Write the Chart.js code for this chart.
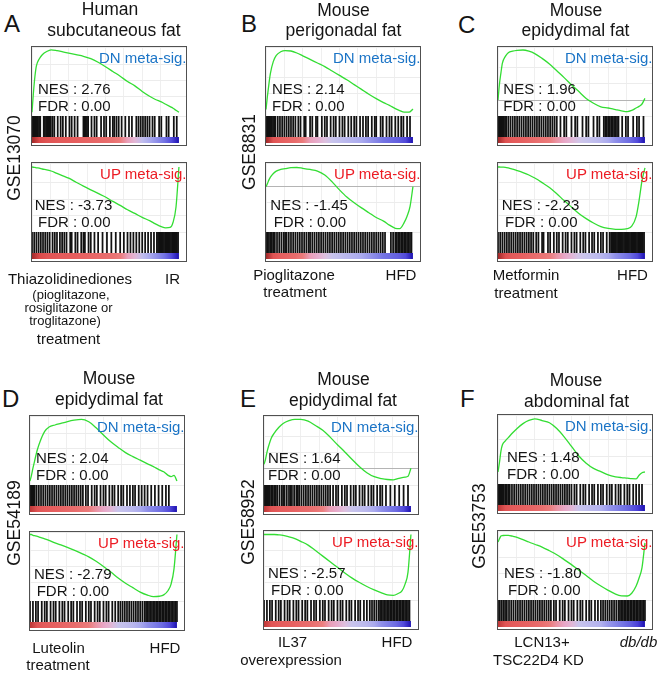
<!DOCTYPE html>
<html>
<head>
<meta charset="utf-8">
<script src="https://cdn.jsdelivr.net/npm/chart.js@4.4.0/dist/chart.umd.min.js"></script>
<style>
  body { margin: 0; background: #fff; }
  #fig { position: relative; width: 660px; height: 673px; overflow: hidden;
         font-family: "Liberation Sans", Arial, Helvetica, sans-serif; color: #141414; }
  .t { position: absolute; line-height: 1; white-space: nowrap; }
  .box { position: absolute; width: 156px; height: 100px; box-sizing: border-box;
         border: 1px solid #505050; overflow: hidden; background: #fff; }
  .box canvas { position: absolute; left: 0; top: 0; }
</style>
</head>
<body>
<div id="fig"></div>
<script>
// rank position (% of ranked gene list) of the running enrichment score samples
const rankPos = [0,1,2,3,5,7,10,13,17,21,25,30,35,40,45,50,55,60,65,70,75,80,84,88,91,94,96,98,100];
// rank positions of the ranked-metric colour strip
const stripPos = [0,5,10,15,20,25,30,35,40,45,50,55,60,65,70,75,80,85,90,95,100];

// A  GSE13070
const esA_dn = [0,0.25,0.45,0.58,0.67,0.72,0.76,0.78,0.77,0.755,0.74,0.72,0.70,0.67,0.625,0.57,0.51,0.45,0.385,0.33,0.26,0.20,0.16,0.13,0.10,0.07,0.05,0.025,0];
const esA_up = [0,-0.003,-0.006,-0.01,-0.015,-0.025,-0.035,-0.05,-0.08,-0.11,-0.14,-0.19,-0.24,-0.285,-0.33,-0.375,-0.43,-0.48,-0.535,-0.58,-0.63,-0.67,-0.71,-0.745,-0.76,-0.755,-0.69,-0.5,0];
const hitsA_dn = [0,0.8,1.6,2.4,3.2,4,4.8,5.6,8,8.8,9.6,10.4,11.2,12,12.8,14,15.2,17.5,19.5,21,23,25.5,27,29,31,35,35.8,36.6,37.4,38.2,40.5,42.5,44,47,49,50.5,53,55,56,57.5,59,61,63.5,66,68,71,72.5,74,75.5,77,78.5,80,82,83.5,86.5,88,91.5,93,96.5,98.5];
const hitsA_up = [0,1.5,3,4.5,6,7.5,9,10.5,12,14,15.5,17,19,20.5,22,23.5,26,27,29.5,31,33.5,35,36,38.5,40,42.5,45,48,51,54,57,60,62.5,65,67,69,71,73,75,77,79,81,83,85,85.8,86.6,87.4,88.2,89,89.8,90.6,91.4,92.2,93,93.8,94.6,95.4,96.2,97,97.8,98.6,99.4];
const metricA = [1.0,0.75,0.6,0.55,0.5,0.48,0.45,0.42,0.4,0.38,0.35,0.32,0.25,0.12,0.05,-0.15,-0.3,-0.45,-0.6,-0.8,-1.0];

// B  GSE8831
const esB_dn = [0,0.17,0.32,0.45,0.6,0.675,0.72,0.735,0.73,0.705,0.67,0.625,0.58,0.535,0.48,0.425,0.37,0.31,0.25,0.19,0.135,0.085,0.05,0.01,-0.015,-0.035,-0.035,-0.03,0.005];
const esB_up = [0,0.04,0.085,0.12,0.165,0.195,0.215,0.225,0.238,0.24,0.23,0.215,0.195,0.145,0.06,-0.04,-0.13,-0.2,-0.265,-0.325,-0.385,-0.43,-0.48,-0.52,-0.525,-0.45,-0.37,-0.25,0];
const hitsB_dn = [0,0.8,1.6,2.4,3.2,4,4.8,5.6,6.4,8,9.5,11,12.5,14,15.5,17,18.5,20,22,23.5,26,27,30,31.5,34,35,38,40,41.5,44,46,47.5,50,52,53.5,56,58,60,61.5,64,66,68,69.5,72,74,75,78,79.5,82,84,85.5,88,90,92,93.5,96,98];
const hitsB_up = [0,1,2,3,4,5,6,7.5,9,10.5,12,13,14,15.5,17,18.5,20,21.5,23,24.5,26,27.5,29,30,31.5,33,34.5,36,37.5,39,40.5,42,43.5,45,46.5,48,49.5,51,52.5,54,55.5,57,58.5,60,61.5,63,64.5,66,67.5,69,70.5,72,73.5,75,76.5,78,79.5,81,85,86.5,88,89,90,91,92,93,94,95,96,97,98,99];
const metricB = [1.0,0.6,0.45,0.4,0.35,0.25,0.12,0.08,0.02,-0.1,-0.15,-0.2,-0.25,-0.3,-0.4,-0.5,-0.6,-0.65,-0.7,-0.8,-1.0];

// C  (epidydimal, metformin)
const esC_dn = [0,0.2,0.34,0.46,0.545,0.59,0.61,0.62,0.625,0.61,0.58,0.52,0.45,0.365,0.28,0.19,0.105,0.02,-0.04,-0.085,-0.1,-0.12,-0.135,-0.145,-0.13,-0.1,-0.08,-0.05,0.02];
const esC_up = [0,0,-0.001,-0.002,-0.004,-0.012,-0.028,-0.045,-0.07,-0.1,-0.138,-0.195,-0.257,-0.335,-0.42,-0.5,-0.58,-0.645,-0.7,-0.745,-0.768,-0.779,-0.78,-0.77,-0.74,-0.62,-0.42,-0.17,-0.01];
const hitsC_dn = [0,0.8,1.6,2.4,3.2,4,4.8,5.6,7,8.5,10,11.5,13,14.5,16,17.5,19,20.5,22,23.5,25,26.5,28,29.5,31,32.5,34,35.5,37,38.5,40,42.5,45,46.5,50,52.5,54,57.5,60,61.5,65,67.5,69,72,73,74,75,76,77,78,79,80,81,82,84.5,87,88.5,92,94.5,96,99];
const hitsC_up = [0,1.5,3,4.5,6,7.5,9,10.5,12,13.5,15,16.5,18,19.5,21,22.5,24,26,27.5,30,31,34,35.5,38,40,41.5,44,46,47.5,50,52,53.5,56,58,59.5,62,64,65.5,68,70,71.5,74,76,77,77.8,78.6,79.4,80.2,81,81.8,82.6,83.4,84.2,85,85.8,86.6,87.4,88.2,89,89.8,90.6,91.4,92.2,93,93.8,94.6,95.4,96.2,97,97.8,98.6,99.4];
const metricC = [1.0,0.65,0.5,0.45,0.4,0.35,0.3,0.25,0.15,0.1,0.05,-0.05,-0.1,-0.15,-0.2,-0.3,-0.45,-0.55,-0.65,-0.8,-1.0];

// D  GSE54189
const esD_dn = [0,0.07,0.16,0.24,0.39,0.5,0.62,0.675,0.7,0.72,0.74,0.76,0.77,0.74,0.665,0.575,0.49,0.42,0.355,0.305,0.26,0.215,0.18,0.14,0.115,0.07,0.055,0.07,0];
const esD_up = [0,0,-0.01,-0.015,-0.025,-0.037,-0.055,-0.075,-0.105,-0.13,-0.157,-0.195,-0.237,-0.28,-0.335,-0.4,-0.47,-0.545,-0.61,-0.665,-0.72,-0.758,-0.777,-0.772,-0.755,-0.7,-0.62,-0.43,0];
const hitsD_dn = [0,0.8,1.6,2.4,3.2,4.5,6,7.5,9,10.5,12,13.5,15,16.5,18,19.5,21,22.5,24,25.5,27,28.5,30,31.5,33,34.5,36,38,39.5,42,44,45.5,48,50,51.5,54,56,57.5,60,62,63.5,66,68,70,71.5,74,76,78,80,82.5,85,87.5,90,92.5,94.5];
const hitsD_up = [0,2,4,5.5,8,10,11.5,14,16,17.5,20,22,23.5,26,28,29.5,32,34,35.5,38,40,41.5,44,46,47.5,50,52,53.5,56,58,60,61.5,63,64.5,66,67.5,69,70.5,72,73.5,75,76.5,78,79,80,81,82,83,84,85,86,87,88,89,90,91,92,93,94,95,96,97,98,99,100];
const metricD = [0.9,0.6,0.5,0.45,0.42,0.38,0.35,0.3,0.25,0.15,0.1,0.05,-0.1,-0.15,-0.2,-0.3,-0.45,-0.55,-0.65,-0.8,-1.0];

// E  GSE58952
const esE_dn = [0.05,0.11,0.2,0.27,0.38,0.44,0.51,0.56,0.595,0.612,0.612,0.59,0.535,0.475,0.39,0.295,0.205,0.11,0.02,-0.055,-0.105,-0.128,-0.14,-0.145,-0.128,-0.115,-0.11,-0.1,0];
const esE_up = [0,0,0,0,0,0,-0.004,-0.01,-0.028,-0.05,-0.085,-0.132,-0.2,-0.27,-0.34,-0.41,-0.48,-0.545,-0.6,-0.65,-0.693,-0.73,-0.755,-0.76,-0.74,-0.7,-0.62,-0.47,0];
const hitsE_dn = [0,0.8,1.6,2.4,3.2,4,5,6,7,8,9,10.5,12,13,14,15.5,17,18,19,20.5,22,23,24,25.5,27,28.5,30,31.5,33,34.5,36,37.5,39,40.5,42,43.5,45,47,49,50.5,53,55,56.5,59,61,62.5,65,67,68.5,71,73,74.5,77,79,80.5,83,86,89,92,95,98];
const hitsE_up = [0,2,4,5.5,8,10,11.5,14,16,17.5,20,22,23.5,26,28,29.5,32,34,35.5,38,40,41.5,44,46,47.5,50,52,53.5,56,58,59.5,62,64,65.5,68,70,72,73.5,75,76.5,78,79,80,81,82,83,84,85,86,87,88,89,90,91,92,93,94,95,96,97,98,99];
const metricE = [0.9,0.6,0.5,0.45,0.42,0.38,0.35,0.3,0.22,0.12,0.08,0.02,-0.1,-0.15,-0.2,-0.3,-0.45,-0.55,-0.65,-0.8,-1.0];

// F  GSE53753
const esF_dn = [0,0.12,0.26,0.34,0.39,0.43,0.49,0.545,0.605,0.645,0.665,0.643,0.615,0.543,0.44,0.32,0.2,0.11,0.045,0.005,-0.037,-0.06,-0.07,-0.077,-0.083,-0.085,-0.04,-0.01,0];
const esF_up = [0,0.04,0.075,0.08,0.084,0.083,0.072,0.058,0.03,0,-0.028,-0.063,-0.11,-0.16,-0.22,-0.283,-0.352,-0.42,-0.49,-0.55,-0.604,-0.652,-0.673,-0.675,-0.64,-0.55,-0.45,-0.32,-0.01];
const hitsF_dn = [0,0.8,1.6,2.4,3.2,4,5,6,7,8,9.5,11,12.5,14,15.5,17,18.5,20,21.5,23,24.5,26,27.5,29,30.5,32,33.5,35,36.5,38,39.5,41,42.5,44,45.5,47,48.5,50,52,53.5,56,58,59.5,62,64,65.5,68,70,71.5,74,76,77.5,80,82,83.5,86,88,89.5,92,94,96,98];
const hitsF_up = [0,1.2,2.4,3.6,4.8,6,7.5,9,10.5,12,13.5,15,16.5,18,19.5,21,22.5,24,25.5,27,28.5,30,31.5,33,34.5,36,38,39.5,42,44,45.5,48,50,51.5,54,56,57.5,60,62,63.5,66,68,70,71.5,73,74.5,76,77.5,79,80.5,82,83,84,85,86,87,88,89,90,91,92,93,94,95,96,97,98,99,100];
const metricF = [0.9,0.6,0.5,0.45,0.42,0.38,0.33,0.25,0.15,0.1,0.05,-0.1,-0.15,-0.2,-0.25,-0.4,-0.5,-0.6,-0.7,-0.85,-1.0];

// normalised enrichment scores and FDR per panel (A..F)
const nesDn = [2.76, 2.14, 1.96, 2.04, 1.64, 1.48];
const nesUp = [-3.73, -1.45, -2.23, -2.79, -2.57, -1.80];
const fdrDn = [0, 0, 0, 0, 0, 0];
const fdrUp = [0, 0, 0, 0, 0, 0];

// ---------- layout / styling ----------
const fig = document.getElementById('fig');
const ES_SPAN = 69 / 80;   // ES units visible in the 69px enrichment area
const GREEN = '#33dd33';

// colour ramp of the ranked-list strip (red -> pink -> lavender -> blue)
const rampStops = [
  [1, '#a02828'], [0.8, '#d84646'], [0.45, '#e65e5e'], [0.2, '#ec8282'], [0.1, '#e8a6c6'],
  [0, '#dcc6e4'], [-0.1, '#c8c4ec'], [-0.3, '#aaaaee'], [-0.6, '#7474e4'], [-0.85, '#4a40d8'], [-1, '#1c10b0']
];
function hex2rgb(h) { return [1, 3, 5].map(i => parseInt(h.substr(i, 2), 16)); }
function rampColor(m) {
  for (let i = 0; i < rampStops.length - 1; i++) {
    const [a, ca] = rampStops[i], [b, cb] = rampStops[i + 1];
    if (m <= a && m >= b) {
      const t = (a - m) / (a - b);
      const x = hex2rgb(ca), y = hex2rgb(cb);
      return 'rgb(' + x.map((v, k) => Math.round(v + (y[k] - v) * t)).join(',') + ')';
    }
  }
  return m > 0 ? rampStops[0][1] : rampStops[rampStops.length - 1][1];
}

function label(parent, text, x, y, size, align, extra) {
  const d = document.createElement('div');
  d.className = 't';
  d.textContent = text;
  d.style.left = x + 'px';
  d.style.top = y + 'px';
  d.style.fontSize = size + 'px';
  const tx = align === 'center' ? '-50%' : align === 'right' ? '-100%' : '0';
  d.style.transform = 'translate(' + tx + ',-50%)' + (extra && extra.rot ? ' rotate(-90deg)' : '');
  if (extra && extra.italic) d.style.fontStyle = 'italic';
  if (extra && extra.color) d.style.color = extra.color;
  parent.appendChild(d);
  return d;
}

function gseaBox(left, top, esTop, es, hits, metric, kind, nes, fdr, nesDx, fdrDx) {
  const box = document.createElement('div');
  box.className = 'box';
  box.style.left = left + 'px';
  box.style.top = top + 'px';
  fig.appendChild(box);
  const cv = document.createElement('canvas');
  cv.width = 154;
  cv.height = 98;
  box.appendChild(cv);

  new Chart(cv, {
    type: 'line',
    data: {
      datasets: [
        {
          data: es.map((v, i) => ({ x: rankPos[i], y: v })),
          yAxisID: 'y',
          borderColor: GREEN,
          borderWidth: 1.3,
          pointRadius: 0,
          cubicInterpolationMode: 'monotone'
        },
        {
          type: 'scatter',
          data: hits.map(h => ({ x: h, y: 0.5 })),
          yAxisID: 'yHit',
          pointStyle: 'line',
          pointRotation: 90,
          pointRadius: 10.5,
          pointHoverRadius: 10.5,
          borderColor: '#111',
          pointBorderColor: '#111',
          pointBorderWidth: 1.75
        },
        {
          data: [{ x: 0, y: 0.5 }, { x: 100, y: 0.5 }],
          yAxisID: 'yStrip',
          borderWidth: 6,
          borderCapStyle: 'butt',
          pointRadius: 0,
          borderColor: (ctx) => {
            const chart = ctx.chart;
            if (!chart.chartArea) return '#fff';
            const xs = chart.scales.x;
            const g = chart.ctx.createLinearGradient(xs.getPixelForValue(0), 0, xs.getPixelForValue(100), 0);
            metric.forEach((m, i) => g.addColorStop(stripPos[i] / 100, rampColor(m)));
            return g;
          }
        }
      ]
    },
    options: {
      responsive: false,
      animation: false,
      events: [],
      layout: { autoPadding: false, padding: { left: 0, right: 0, top: 0, bottom: 2 } },
      plugins: { legend: { display: false }, tooltip: { enabled: false } },
      scales: {
        x: {
          type: 'linear', min: 0, max: 104.8,
          ticks: { display: false, stepSize: 12.5 },
          grid: { color: '#efefef', drawTicks: false },
          border: { display: false }
        },
        y: {
          type: 'linear', position: 'left', stack: 'gsea', stackWeight: 69, weight: 3,
          min: esTop - ES_SPAN, max: esTop,
          ticks: { display: false, stepSize: 0.2 },
          grid: { drawTicks: false, color: (c) => (c.tick && c.tick.value === 0 ? '#b4b4b4' : '#ececec') },
          border: { display: false }
        },
        yHit: {
          type: 'linear', position: 'left', stack: 'gsea', stackWeight: 21, weight: 2,
          min: 0, max: 1,
          ticks: { display: false }, grid: { display: false, drawTicks: false }, border: { display: false }
        },
        yStrip: {
          type: 'linear', position: 'left', stack: 'gsea', stackWeight: 6, weight: 1,
          min: 0, max: 1,
          ticks: { display: false }, grid: { display: false, drawTicks: false }, border: { display: false }
        }
      }
    }
  });

  const isDn = kind === 'DN';
  label(box, kind + ' meta-sig.', 154.5, 9.5, 15, 'right', { color: isDn ? '#1b74c6' : '#ec1b23' });
  label(box, 'NES : ' + nes.toFixed(2), nesDx - 1, 41, 15, 'left');
  label(box, 'FDR : ' + fdr.toFixed(2), fdrDx - 1, 58, 15, 'left');
}

// box positions [left, top], ES axis top, text offsets
gseaBox(31, 46, 0.816, esA_dn, hitsA_dn, metricA, 'DN', nesDn[0], fdrDn[0], 7, 7);
gseaBox(31, 162, 0.05, esA_up, hitsA_up, metricA, 'UP', nesUp[0], fdrUp[0], 3.7, 7);
gseaBox(265, 46, 0.78, esB_dn, hitsB_dn, metricB, 'DN', nesDn[1], fdrDn[1], 7, 7);
gseaBox(265, 162, 0.296, esB_up, hitsB_up, metricB, 'UP', nesUp[1], fdrUp[1], 5.3, 8.7);
gseaBox(497, 46, 0.6625, esC_dn, hitsC_dn, metricC, 'DN', nesDn[2], fdrDn[2], 6.3, 6.3);
gseaBox(497, 162, 0.05, esC_up, hitsC_up, metricC, 'UP', nesUp[2], fdrUp[2], 4.7, 8);
gseaBox(29, 415, 0.8125, esD_dn, hitsD_dn, metricD, 'DN', nesDn[3], fdrDn[3], 7, 7);
gseaBox(29, 531, 0.031, esD_up, hitsD_up, metricD, 'UP', nesUp[3], fdrUp[3], 5, 7.7);
gseaBox(263, 415, 0.654, esE_dn, hitsE_dn, metricE, 'DN', nesDn[4], fdrDn[4], 5, 5);
gseaBox(263, 530, 0.044, esE_up, hitsE_up, metricE, 'UP', nesUp[4], fdrUp[4], 5, 8);
gseaBox(497, 414, 0.7125, esF_dn, hitsF_dn, metricF, 'DN', nesDn[5], fdrDn[5], 10, 10);
gseaBox(497, 530, 0.1375, esF_up, hitsF_up, metricF, 'UP', nesUp[5], fdrUp[5], 7, 11);

// panel letters
[['A', 4, 24], ['B', 241, 24], ['C', 458, 25], ['D', 2, 398.5], ['E', 240, 398.5], ['F', 460, 399]]
  .forEach(([s, x, y]) => label(fig, s, x, y, 24, 'left'));

// panel titles
[['Human', 110, 10], ['subcutaneous fat', 114, 31],
 ['Mouse', 343.5, 11], ['perigonadal fat', 343.5, 31],
 ['Mouse', 576, 11], ['epidydimal fat', 575.5, 31],
 ['Mouse', 109, 378.5], ['epidydimal fat', 109, 399.5],
 ['Mouse', 343.5, 380], ['epidydimal fat', 343, 401],
 ['Mouse', 576, 381], ['abdominal fat', 576.5, 402]]
  .forEach(([s, x, y]) => label(fig, s, x, y, 17.5, 'center'));

// dataset ids
[['GSE13070', 15, 157.5], ['GSE8831', 250, 151.5], ['GSE54189', 15, 522.5],
 ['GSE58952', 248.5, 521.5], ['GSE53753', 480, 525.5]]
  .forEach(([s, x, y]) => label(fig, s, x, y, 17.5, 'center', { rot: true }));

// comparison labels
[['Thiazolidinediones', 70, 277.5, 15], ['IR', 172.5, 277.5, 15],
 ['(pioglitazone,', 71, 293.5, 13], ['rosiglitazone or', 68.5, 307, 13], ['troglitazone)', 65, 320, 13],
 ['treatment', 68.5, 337.5, 15],
 ['Pioglitazone', 294, 273.5, 15], ['treatment', 295, 290.5, 15], ['HFD', 401, 273.5, 15],
 ['Metformin', 526, 274, 15], ['treatment', 526, 292, 15], ['HFD', 632.5, 274, 15],
 ['Luteolin', 58.5, 647, 15], ['treatment', 58, 664, 15], ['HFD', 165, 647, 15],
 ['IL37', 292.5, 641, 15], ['overexpression', 291, 659, 15], ['HFD', 397, 641, 15],
 ['LCN13+', 542, 641, 15], ['TSC22D4 KD', 538.5, 659, 15]]
  .forEach(([s, x, y, f]) => label(fig, s, x, y, f, 'center'));
label(fig, 'db/db', 638.5, 641, 15, 'center', { italic: true });
</script>
</body>
</html>
